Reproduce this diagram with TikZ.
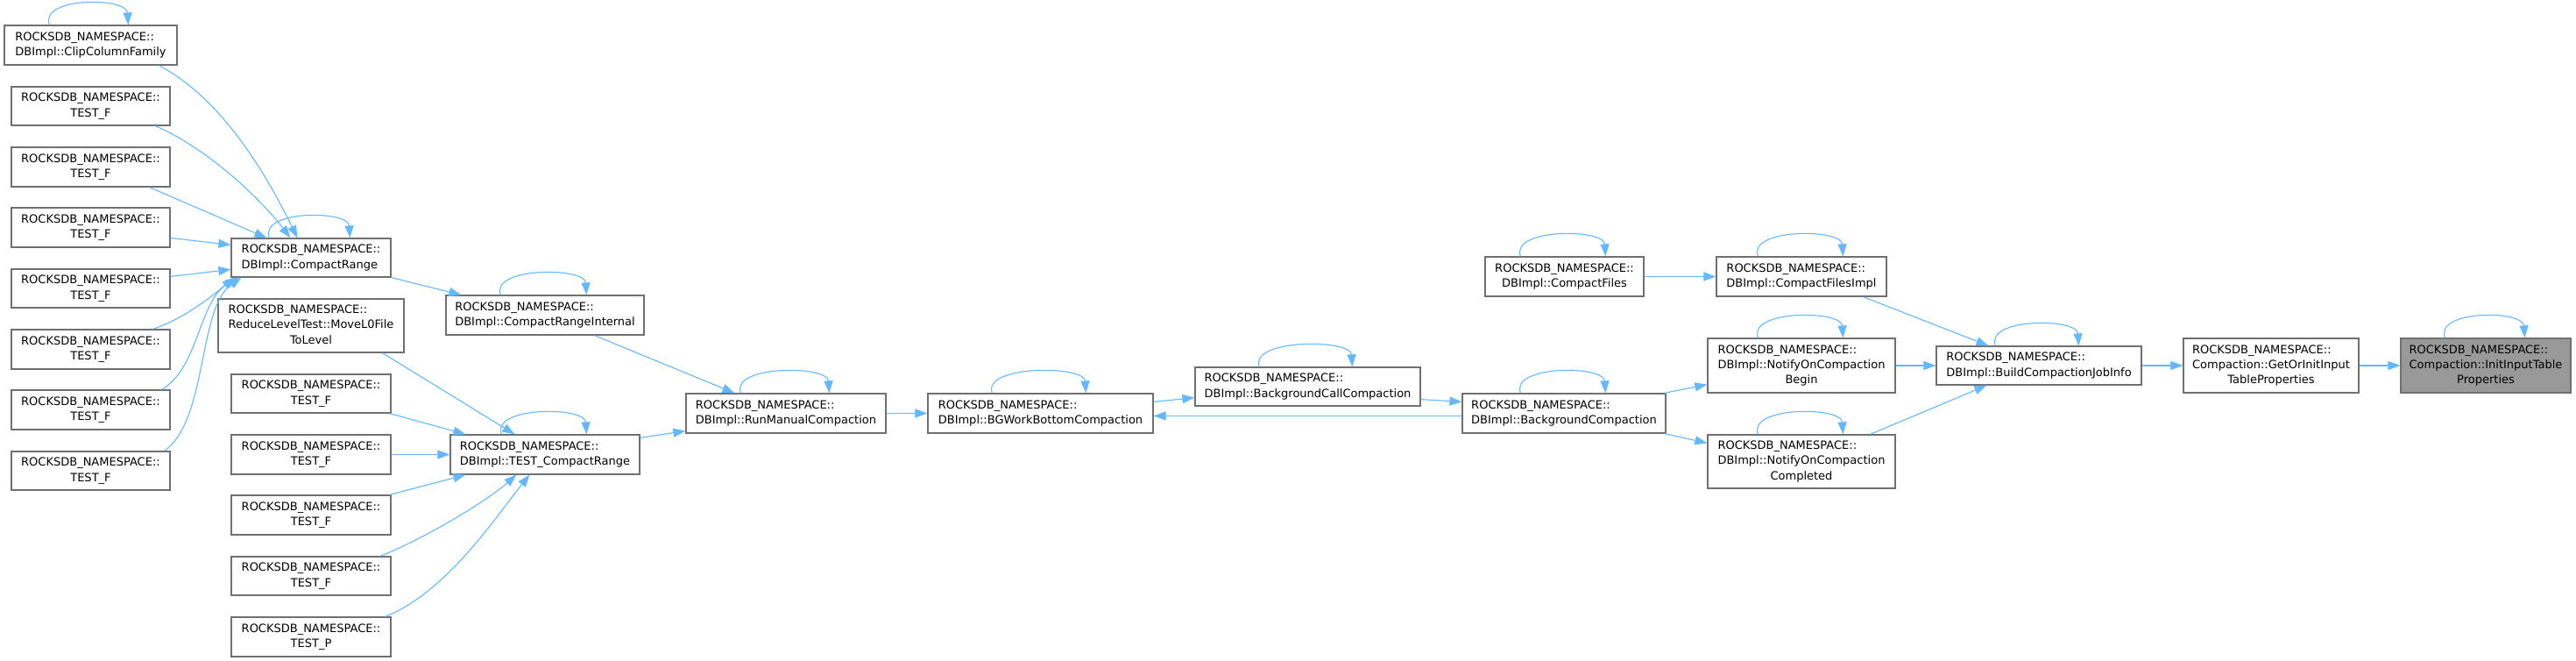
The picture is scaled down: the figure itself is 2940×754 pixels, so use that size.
\documentclass[tikz,border=0pt]{standalone}
\usepackage{fontspec}
\usetikzlibrary{arrows.meta}
\newfontfamily\djv{DejaVu Sans}
\definecolor{edgeblue}{HTML}{63B8FF}
\definecolor{boxborder}{HTML}{707070}
\definecolor{boxgray}{HTML}{999999}
\newcommand\ntwol[2]{\begin{tabular}{@{}l@{}}#1\\#2\end{tabular}}
\newcommand\ntwoc[2]{\begin{tabular}{@{}l@{}}#1\\\multicolumn{1}{@{}c@{}}{#2}\end{tabular}}
\newcommand\nthreec[3]{\begin{tabular}{@{}l@{}}#1\\#2\\\multicolumn{1}{@{}c@{}}{#3}\end{tabular}}
\newcommand\placebox[7][]{%
  \pgfmathsetmacro\mybxc{(#3+#5)/2}%
  \pgfmathsetmacro\mybyc{(#4+#6)/2}%
  \pgfmathsetmacro\mybxw{#5-#3}%
  \pgfmathsetmacro\mybxh{#6-#4}%
  \node[box,minimum width=\mybxw pt,minimum height=\mybxh pt,#1] (#2) at (\mybxc,\mybyc) {#7};}
\newcommand\selfloop[3]{\draw[conn] ([xshift=#2pt]#1.north west) .. controls +(-12,-32) and +(-2,-32) .. ([xshift=#3pt]#1.north west);}
\newcommand\RN{ROCKSDB\_NAMESPACE::}
\begin{document}
\begin{tikzpicture}[x=1pt,y=-1pt,
  box/.style={draw=boxborder,line width=1.2pt,fill=white,inner sep=0pt,
    font=\djv\fontsize{13}{17.3}\selectfont},
  conn/.style={draw=edgeblue,line width=1.1pt,-{Triangle[length=14pt,width=10pt]}}]
\fill[white] (0,0) rectangle (2940,754);
\useasboundingbox (0,0) rectangle (2940,754);
% column 1
\placebox{clip}{5}{29}{202}{74}{\ntwol{\RN}{DBImpl::ClipColumnFamily}}
\placebox{tf1}{13}{99}{194}{143}{\ntwoc{\RN}{TEST\_F}}
\placebox{tf2}{13}{168}{194}{213}{\ntwoc{\RN}{TEST\_F}}
\placebox{tf3}{13}{237}{194}{282}{\ntwoc{\RN}{TEST\_F}}
\placebox{tf4}{13}{307}{194}{351}{\ntwoc{\RN}{TEST\_F}}
\placebox{tf5}{13}{376}{194}{421}{\ntwoc{\RN}{TEST\_F}}
\placebox{tf6}{13}{445}{194}{490}{\ntwoc{\RN}{TEST\_F}}
\placebox{tf7}{13}{515}{194}{559}{\ntwoc{\RN}{TEST\_F}}
% column 2
\placebox{cr}{264}{272}{446}{316}{\ntwol{\RN}{DBImpl::CompactRange}}
\placebox{rlt}{249}{341}{461}{402}{\nthreec{\RN}{ReduceLevelTest::MoveL0File}{ToLevel}}
\placebox{tg1}{264}{427}{446}{471}{\ntwoc{\RN}{TEST\_F}}
\placebox{tg2}{264}{496}{446}{541}{\ntwoc{\RN}{TEST\_F}}
\placebox{tg3}{264}{565}{446}{610}{\ntwoc{\RN}{TEST\_F}}
\placebox{tg4}{264}{635}{446}{679}{\ntwoc{\RN}{TEST\_F}}
\placebox{tp}{264}{704}{446}{749}{\ntwoc{\RN}{TEST\_P}}
% column 3
\placebox{cri}{509}{337}{735}{382}{\ntwol{\RN}{DBImpl::CompactRangeInternal}}
\placebox{tcr}{514}{496}{730}{541}{\ntwol{\RN}{DBImpl::TEST\_CompactRange}}
% rest
\placebox{rmc}{783}{449}{1011}{494}{\ntwol{\RN}{DBImpl::RunManualCompaction}}
\placebox{bgw}{1059}{449}{1316}{494}{\ntwol{\RN}{DBImpl::BGWorkBottomCompaction}}
\placebox{bcc}{1364}{419}{1621}{463}{\ntwol{\RN}{DBImpl::BackgroundCallCompaction}}
\placebox{bc}{1669}{449}{1901}{494}{\ntwol{\RN}{DBImpl::BackgroundCompaction}}
\placebox{cf}{1695}{293}{1876}{338}{\ntwoc{\RN}{DBImpl::CompactFiles}}
\placebox{cfi}{1959}{293}{2153}{338}{\ntwol{\RN}{DBImpl::CompactFilesImpl}}
\placebox{nb}{1949}{386}{2163}{448}{\nthreec{\RN}{DBImpl::NotifyOnCompaction}{Begin}}
\placebox{nc}{1949}{496}{2163}{557}{\nthreec{\RN}{DBImpl::NotifyOnCompaction}{Completed}}
\placebox{bji}{2210}{395}{2444}{439}{\ntwol{\RN}{DBImpl::BuildCompactionJobInfo}}
\placebox{goi}{2492}{386}{2692}{448}{\nthreec{\RN}{Compaction::GetOrInitInput}{TableProperties}}
\placebox[fill=boxgray]{iit}{2740}{386}{2934}{448}{\nthreec{\RN}{Compaction::InitInputTable}{Properties}}
% self loops
\selfloop{clip}{52}{142}
\selfloop{cr}{44}{136}
\selfloop{cri}{63}{161}
\selfloop{tcr}{59}{156}
\selfloop{rmc}{63}{164}
\selfloop{bgw}{74}{181}
\selfloop{bcc}{74}{180}
\selfloop{bc}{67}{164}
\selfloop{cf}{41}{138}
\selfloop{cfi}{48}{145}
\selfloop{nb}{58}{155}
\selfloop{nc}{58}{155}
\selfloop{bji}{68}{163}
\selfloop{iit}{51}{142}
% edges into CompactRange
\draw[conn] ([xshift=177pt]clip.south west) .. controls +(68,36) and +(-40,-82) .. ([xshift=76pt]cr.north west);
\draw[conn] ([xshift=165pt]tf1.south west) .. controls +(62,27) and +(-32,-42) .. ([xshift=68pt]cr.north west);
\draw[conn] ([xshift=158pt]tf2.south west) -- ([xshift=41pt]cr.north west);
\draw[conn] ([yshift=-35pt]tf3.north east) -- ([yshift=-8pt]cr.north west);
\draw[conn] ([yshift=-9pt]tf4.north east) -- ([yshift=-36pt]cr.north west);
\draw[conn] ([xshift=162pt]tf5.north west) .. controls +(35,-12) and +(-30,25) .. ([xshift=4pt]cr.south west);
\draw[conn] ([xshift=172pt]tf6.north west) .. controls +(43,-25) and +(-45,27) .. ([xshift=8pt]cr.south west);
\draw[conn] ([xshift=175pt]tf7.north west) .. controls +(50,-35) and +(-50,35) .. ([xshift=12pt]cr.south west);
% into TEST_CompactRange
\draw[conn] ([xshift=188pt]rlt.south west) -- ([xshift=74pt]tcr.north west);
\draw[conn] ([xshift=-2pt]tg1.south east) -- ([xshift=18pt]tcr.north west);
\draw[conn] (tg2.east) -- (tcr.west);
\draw[conn] ([xshift=-2pt]tg3.north east) -- ([xshift=18pt]tcr.south west);
\draw[conn] ([xshift=-13pt]tg4.north east) .. controls +(40,-15) and +(-40,35) .. ([xshift=76pt]tcr.south west);
\draw[conn] ([xshift=-7pt]tp.north east) .. controls +(70,-28) and +(-40,50) .. ([xshift=91pt]tcr.south west);
% middle chain
\draw[conn] (cr.south east) -- ([xshift=18pt]cri.north west);
\draw[conn] ([xshift=170pt]cri.south west) -- ([xshift=56pt]rmc.north west);
\draw[conn] ([yshift=-4pt]tcr.north east) -- ([yshift=3pt]rmc.south west);
\draw[conn] (rmc.east) -- (bgw.west);
\draw[conn] ([yshift=-10pt]bgw.north east) -- ([yshift=10pt]bcc.south west);
\draw[conn] ([yshift=8pt]bcc.south east) -- ([yshift=-10pt]bc.north west);
\draw[conn] ([yshift=-26pt]bc.north west) -- ([yshift=-26pt]bgw.north east);
\draw[conn] ([xshift=-2pt]bc.north east) -- ([yshift=10pt]nb.south west);
\draw[conn] ([xshift=-2pt]bc.south east) -- ([yshift=-10pt]nc.north west);
\draw[conn] (cf.east) -- (cfi.west);
\draw[conn] ([xshift=168pt]cfi.south west) -- ([xshift=60pt]bji.north west);
\draw[conn] (nb.east) -- (bji.west);
\draw[conn] ([xshift=186pt]nc.north west) -- ([xshift=58pt]bji.south west);
\draw[conn] (bji.east) -- (goi.west);
\draw[conn] (goi.east) -- (iit.west);
\end{tikzpicture}
\end{document}
